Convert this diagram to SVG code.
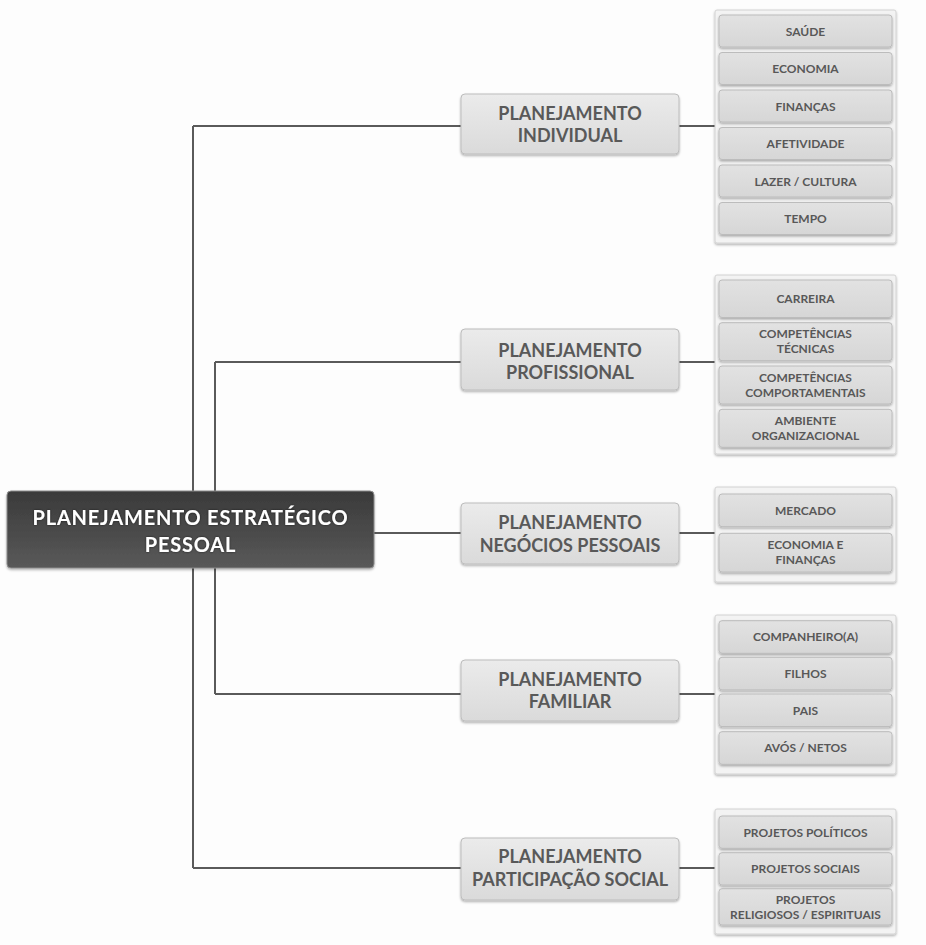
<svg xmlns="http://www.w3.org/2000/svg" width="926" height="945" viewBox="0 0 926 945">
<defs>
<linearGradient id="gNode" x1="0" y1="0" x2="0" y2="1">
<stop offset="0" stop-color="#ebebeb"/><stop offset="1" stop-color="#dadada"/>
</linearGradient>
<linearGradient id="gItem" x1="0" y1="0" x2="0" y2="1">
<stop offset="0" stop-color="#e2e2e2"/><stop offset="1" stop-color="#d6d6d6"/>
</linearGradient>
<linearGradient id="gRoot" x1="0" y1="0" x2="0" y2="1">
<stop offset="0" stop-color="#3a3a3a"/><stop offset="1" stop-color="#595959"/>
</linearGradient>
<filter id="sh" x="-5%" y="-10%" width="110%" height="130%">
<feDropShadow dx="0" dy="1.5" stdDeviation="1" flood-color="#000" flood-opacity="0.3"/>
</filter>
<filter id="glow" x="-5%" y="-20%" width="110%" height="140%">
<feDropShadow dx="0" dy="0" stdDeviation="0.8" flood-color="#000" flood-opacity="0.6"/>
</filter>
</defs>
<style>
.bg{fill:#fdfdfd}
.con{fill:none;stroke:#5a5a5a;stroke-width:2}
.node{fill:url(#gNode);stroke:#bdbdbd;stroke-width:1;filter:url(#sh)}
.box{fill:#f3f3f3;stroke:#d2d2d2;stroke-width:1;filter:url(#sh)}
.item{fill:url(#gItem);stroke:#bcbcbc;stroke-width:1;filter:url(#sh)}
.root{fill:url(#gRoot);stroke:#8a8a8a;stroke-width:1;filter:url(#sh)}
.nt{font-family:Lato,"Open Sans","Liberation Sans",sans-serif;font-weight:bold;font-size:18px;fill:#595959;text-anchor:middle}
.it{font-family:Lato,"Open Sans","Liberation Sans",sans-serif;font-weight:bold;font-size:12px;fill:#585858;text-anchor:middle}
.rt{font-family:Lato,"Open Sans","Liberation Sans",sans-serif;font-weight:bold;font-size:20px;letter-spacing:0.8px;fill:#ffffff;text-anchor:middle;filter:url(#glow)}
</style>
<rect class="bg" x="0" y="0" width="926" height="945"/>

<g id="connectors">
<path class="con" d="M193 126 V868"/>
<path class="con" d="M215 362 V694"/>
<path class="con" d="M193 126 H461"/>
<path class="con" d="M215 362 H461"/>
<path class="con" d="M374 533 H461"/>
<path class="con" d="M215 694 H461"/>
<path class="con" d="M193 868 H461"/>
<path class="con" d="M679 126 H715"/>
<path class="con" d="M679 362 H715"/>
<path class="con" d="M679 533 H715"/>
<path class="con" d="M679 694 H715"/>
<path class="con" d="M679 868 H715"/>
</g>

<g id="root">
<rect class="root" x="7" y="491" width="367" height="77" rx="4"/>
<text class="rt" x="190.5" y="525">PLANEJAMENTO ESTRATÉGICO</text>
<text class="rt" x="190.5" y="552">PESSOAL</text>
</g>

<g id="n-individual">
<rect class="node" x="461" y="94" width="218" height="60" rx="4"/>
<text class="nt" x="570" y="119.5">PLANEJAMENTO</text>
<text class="nt" x="570" y="141.5">INDIVIDUAL</text>
</g>
<g id="n-profissional">
<rect class="node" x="461" y="329" width="218" height="61" rx="4"/>
<text class="nt" x="570" y="356.7">PLANEJAMENTO</text>
<text class="nt" x="570" y="379">PROFISSIONAL</text>
</g>
<g id="n-negocios">
<rect class="node" x="461" y="503" width="218" height="61" rx="4"/>
<text class="nt" x="570" y="529.3">PLANEJAMENTO</text>
<text class="nt" x="570" y="551.7">NEGÓCIOS PESSOAIS</text>
</g>
<g id="n-familiar">
<rect class="node" x="461" y="660" width="218" height="61" rx="4"/>
<text class="nt" x="570" y="685.5">PLANEJAMENTO</text>
<text class="nt" x="570" y="707.7">FAMILIAR</text>
</g>
<g id="n-social">
<rect class="node" x="461" y="838" width="218" height="62" rx="4"/>
<text class="nt" x="570" y="863.3">PLANEJAMENTO</text>
<text class="nt" x="570" y="885.7">PARTICIPAÇÃO SOCIAL</text>
</g>

<g id="list-individual">
<rect class="box" x="715" y="10" width="181" height="233" rx="2"/>
<rect class="item" x="719" y="15" width="173" height="32" rx="3"/>
<text class="it" x="805.5" y="35.5">SAÚDE</text>
<rect class="item" x="719" y="52.5" width="173" height="32" rx="3"/>
<text class="it" x="805.5" y="73">ECONOMIA</text>
<rect class="item" x="719" y="90" width="173" height="32" rx="3"/>
<text class="it" x="805.5" y="110.5">FINANÇAS</text>
<rect class="item" x="719" y="127.5" width="173" height="32" rx="3"/>
<text class="it" x="805.5" y="148">AFETIVIDADE</text>
<rect class="item" x="719" y="165" width="173" height="32" rx="3"/>
<text class="it" x="805.5" y="185.5">LAZER / CULTURA</text>
<rect class="item" x="719" y="202.5" width="173" height="32" rx="3"/>
<text class="it" x="805.5" y="223">TEMPO</text>
</g>

<g id="list-profissional">
<rect class="box" x="715" y="275" width="181" height="179" rx="2"/>
<rect class="item" x="719" y="280" width="173" height="37.5" rx="3"/>
<text class="it" x="805.5" y="303">CARREIRA</text>
<rect class="item" x="719" y="322.7" width="173" height="38" rx="3"/>
<text class="it" x="805.5" y="338.3">COMPETÊNCIAS</text>
<text class="it" x="805.5" y="353.3">TÉCNICAS</text>
<rect class="item" x="719" y="366" width="173" height="38" rx="3"/>
<text class="it" x="805.5" y="381.6">COMPETÊNCIAS</text>
<text class="it" x="805.5" y="396.6">COMPORTAMENTAIS</text>
<rect class="item" x="719" y="409.3" width="173" height="38" rx="3"/>
<text class="it" x="805.5" y="424.9">AMBIENTE</text>
<text class="it" x="805.5" y="439.9">ORGANIZACIONAL</text>
</g>

<g id="list-negocios">
<rect class="box" x="715" y="487" width="181" height="95" rx="2"/>
<rect class="item" x="719" y="494" width="173" height="32.7" rx="3"/>
<text class="it" x="805.5" y="514.8">MERCADO</text>
<rect class="item" x="719" y="533.3" width="173" height="38.7" rx="3"/>
<text class="it" x="805.5" y="549.3">ECONOMIA E</text>
<text class="it" x="805.5" y="564.3">FINANÇAS</text>
</g>

<g id="list-familiar">
<rect class="box" x="715" y="615" width="181" height="159" rx="2"/>
<rect class="item" x="719" y="620.7" width="173" height="32.6" rx="3"/>
<text class="it" x="805.5" y="641.3">COMPANHEIRO(A)</text>
<rect class="item" x="719" y="657.3" width="173" height="32.6" rx="3"/>
<text class="it" x="805.5" y="677.9">FILHOS</text>
<rect class="item" x="719" y="694" width="173" height="32.6" rx="3"/>
<text class="it" x="805.5" y="714.6">PAIS</text>
<rect class="item" x="719" y="731.7" width="173" height="32.6" rx="3"/>
<text class="it" x="805.5" y="752.3">AVÓS / NETOS</text>
</g>

<g id="list-social">
<rect class="box" x="715" y="809" width="181" height="125" rx="2"/>
<rect class="item" x="719" y="816" width="173" height="32.3" rx="3"/>
<text class="it" x="805.5" y="836.5">PROJETOS POLÍTICOS</text>
<rect class="item" x="719" y="852.7" width="173" height="32.3" rx="3"/>
<text class="it" x="805.5" y="873.2">PROJETOS SOCIAIS</text>
<rect class="item" x="719" y="888.7" width="173" height="36.3" rx="3"/>
<text class="it" x="805.5" y="903.5">PROJETOS</text>
<text class="it" x="805.5" y="918.5">RELIGIOSOS / ESPIRITUAIS</text>
</g>
</svg>
